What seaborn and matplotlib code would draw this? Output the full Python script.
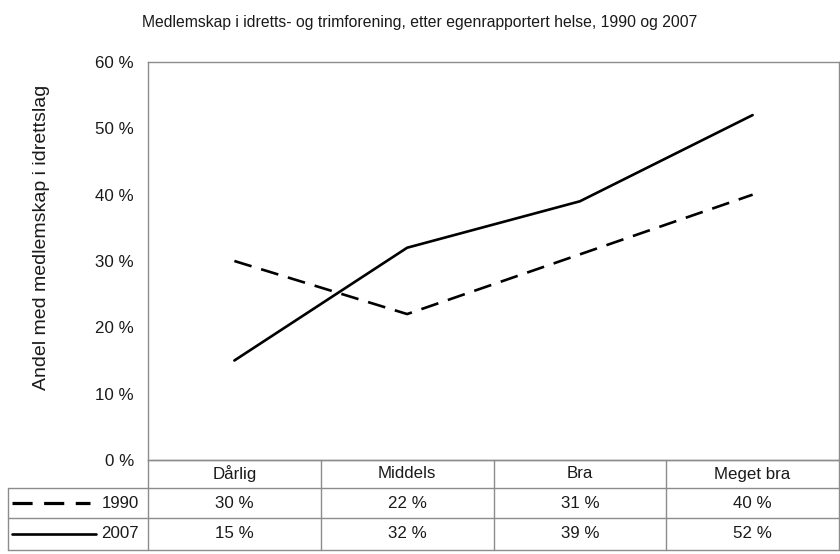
import matplotlib
matplotlib.use("Agg")
import matplotlib.pyplot as plt
import pandas as pd
import seaborn as sns

categories = ["Dårlig", "Middels", "Bra", "Meget bra"]
years = ["1990", "2007"]
values_1990 = [30, 22, 31, 40]
values_2007 = [15, 32, 39, 52]
yticks = [0, 10, 20, 30, 40, 50, 60]

title = "Medlemskap i idretts- og trimforening, etter egenrapportert helse, 1990 og 2007"
ylabel = "Andel med medlemskap i idrettslag"


def main():
  sns.set_style("white")
  plt.rcParams["font.family"] = ["Liberation Sans", "DejaVu Sans"]

  df = pd.DataFrame({
    "pos": list(range(len(categories))) * 2,
    "value": values_1990 + values_2007,
    "year": [years[0]] * len(categories) + [years[1]] * len(categories),
  })

  W, H = 840, 554
  fig = plt.figure(figsize=(W / 100, H / 100), dpi=100)
  gray = "#8c8c8c"
  txt = "#1a1a1a"
  fs = 12.2
  lw = 1.9
  dash = (6.8, 3.8)

  # plot area in pixel coords
  x0, x1, ytop, ybot = 148, 839, 62, 460
  ax = fig.add_axes([x0 / W, 1 - ybot / H, (x1 - x0) / W, (ybot - ytop) / H])
  sns.lineplot(data=df, x="pos", y="value", hue="year", style="year",
               palette=["black", "black"], dashes={"1990": dash, "2007": ""},
               linewidth=lw, legend=False, ax=ax)
  ax.set_xlim(-0.5, len(categories) - 0.5)
  ax.set_ylim(0, 60)
  ax.set_yticks(yticks)
  ax.set_yticklabels([f"{t} %" for t in yticks], fontsize=fs, color=txt)
  ax.set_xticks([])
  ax.set_xlabel("")
  ax.set_ylabel("")
  ax.tick_params(axis="y", length=0, pad=10)
  for s in ax.spines.values():
    s.set_color(gray)
    s.set_linewidth(1)
  fig.text(0.5, 1 - 22 / H, title, ha="center", va="center", fontsize=11.3, color=txt)
  fig.text(42 / W, 1 - 237 / H, ylabel, ha="center", va="center", rotation=90,
           fontsize=14, color=txt)

  # data table below the plot
  tax = fig.add_axes([0, 0, 1, 1])
  tax.set_xlim(0, W)
  tax.set_ylim(H, 0)
  tax.axis("off")
  col_edges = [x0 + i * (x1 - x0) / len(categories) for i in range(len(categories) + 1)]
  rows = [460, 488, 518, 550]
  left = 8
  for xe in col_edges:
    tax.plot([xe, xe], [rows[0], rows[-1]], color=gray, lw=1)
  tax.plot([left, left], [rows[1], rows[-1]], color=gray, lw=1)
  tax.plot([x0, x1], [rows[0], rows[0]], color=gray, lw=1)
  for r in rows[1:]:
    tax.plot([left, x1], [r, r], color=gray, lw=1)

  for i, c in enumerate(categories):
    cx = (col_edges[i] + col_edges[i + 1]) / 2
    tax.text(cx, (rows[0] + rows[1]) / 2, c, ha="center", va="center", fontsize=fs, color=txt)
    tax.text(cx, (rows[1] + rows[2]) / 2, f"{values_1990[i]} %", ha="center", va="center",
             fontsize=fs, color=txt)
    tax.text(cx, (rows[2] + rows[3]) / 2, f"{values_2007[i]} %", ha="center", va="center",
             fontsize=fs, color=txt)

  # legend keys in row labels
  y1 = (rows[1] + rows[2]) / 2
  y2 = (rows[2] + rows[3]) / 2
  tax.plot([12, 90], [y1, y1], color="black", lw=lw + 0.4, dashes=(6.3, 3.6))
  tax.plot([12, 96], [y2, y2], color="black", lw=lw)
  tax.text(139, y1, years[0], ha="right", va="center", fontsize=fs, color=txt)
  tax.text(139, y2, years[1], ha="right", va="center", fontsize=fs, color=txt)

  plt.savefig("out.png", dpi=100)


if __name__ == "__main__":
  main()
